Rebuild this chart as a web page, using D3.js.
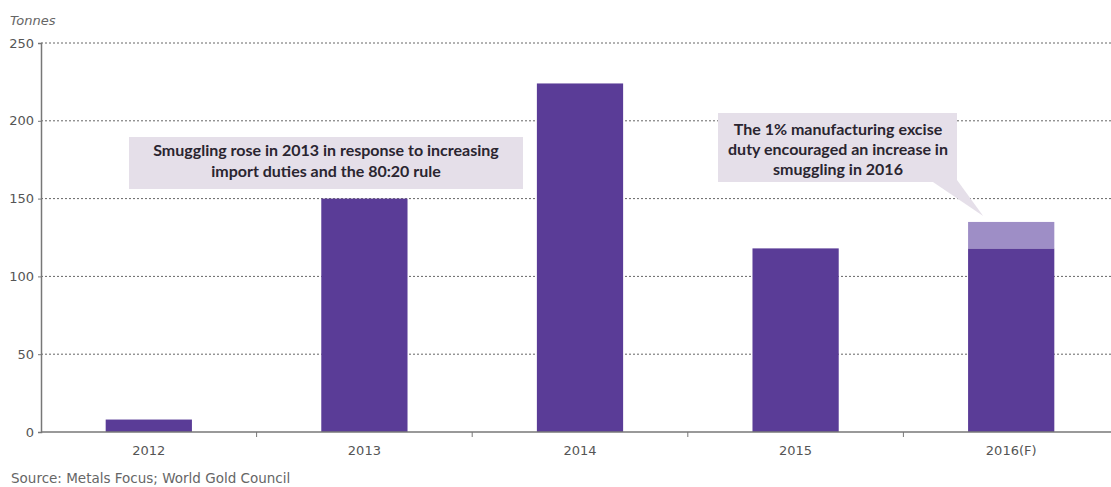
<!DOCTYPE html>
<html>
<head>
<meta charset="utf-8">
<script src="https://cdn.jsdelivr.net/npm/d3@7"></script>
<style>
  body { margin: 0; background: #fff; }
  svg { display: block; font-family: "DejaVu Sans", sans-serif; }
  .tick text { fill: #555; font-size: 13px; font-family: "DejaVu Sans", sans-serif; }
  .note { font-family: Lato, "Open Sans", sans-serif; font-weight: 700; font-size: 16px; fill: #2a2530; }
</style>
</head>
<body>
<svg width="1111" height="487"></svg>
<script>
const years = ["2012", "2013", "2014", "2015", "2016(F)"]
const smuggled = [8, 150, 224, 118, 118]
const extra2016 = [0, 0, 0, 0, 17]
const yTicks = [0, 50, 100, 150, 200, 250]
const notes = [
  ["Smuggling rose in 2013 in response to increasing", "import duties and the 80:20 rule"],
  ["The 1% manufacturing excise", "duty encouraged an increase in", "smuggling in 2016"]
]

const margin = {top: 43, right: 0, bottom: 55, left: 41}
const svg = d3.select("svg")
const width = 1111, height = 487

const x = d3.scaleBand().domain(years).range([margin.left, margin.left + 5 * 215.6]).padding(0)
const y = d3.scaleLinear().domain([0, 250]).range([height - margin.bottom, margin.top])
const barW = x.bandwidth() * 0.4

// gridlines
svg.append("g")
  .selectAll("line")
  .data(yTicks.filter(d => d > 0))
  .join("line")
    .attr("x1", margin.left).attr("x2", width)
    .attr("y1", d => y(d)).attr("y2", d => y(d))
    .attr("stroke", "#666").attr("stroke-width", 1).attr("stroke-dasharray", "2,2")

// annotation boxes (behind bars)
const n1 = svg.append("g")
n1.append("rect").attr("x", 129).attr("y", 137).attr("width", 394).attr("height", 52).attr("fill", "#e5dfe9")
n1.selectAll("text").data(notes[0]).join("text").attr("class", "note")
  .attr("x", 326).attr("y", (d, i) => 156 + i * 21).attr("text-anchor", "middle").text(d => d)

const n2 = svg.append("g")
n2.append("path")
  .attr("d", `M930,180 L957,180 L${x("2016(F)") + x.bandwidth() / 2 - 28},${y(smuggled[4] + extra2016[4]) - 6} Z`)
  .attr("fill", "#e5dfe9")
n2.append("rect").attr("x", 718).attr("y", 113).attr("width", 239).attr("height", 69).attr("fill", "#e5dfe9")
n2.selectAll("text").data(notes[1]).join("text").attr("class", "note")
  .attr("x", 838).attr("y", (d, i) => 135 + i * 20).attr("text-anchor", "middle").text(d => d)

// bars
svg.append("g")
  .selectAll("rect")
  .data(years)
  .join("rect")
    .attr("x", (d) => x(d) + (x.bandwidth() - barW) / 2)
    .attr("y", (d, i) => y(smuggled[i]))
    .attr("width", barW)
    .attr("height", (d, i) => y(0) - y(smuggled[i]))
    .attr("fill", "#5a3c97")

svg.append("g")
  .selectAll("rect")
  .data(years.filter((d, i) => extra2016[i] > 0))
  .join("rect")
    .attr("x", d => x(d) + (x.bandwidth() - barW) / 2)
    .attr("y", d => y(smuggled[years.indexOf(d)] + extra2016[years.indexOf(d)]))
    .attr("width", barW)
    .attr("height", d => y(0) - y(extra2016[years.indexOf(d)]))
    .attr("fill", "#9e8ec6")

// y axis
const yAxis = svg.append("g")
  .attr("transform", `translate(${margin.left},0)`)
  .call(d3.axisLeft(y).tickValues(yTicks).tickSize(3).tickPadding(4))
yAxis.select(".domain").attr("stroke", "#777").attr("stroke-width", 1.5)
yAxis.selectAll(".tick line").attr("stroke", "#777")

// x axis
const xAxis = svg.append("g")
  .attr("transform", `translate(0,${y(0)})`)
  .call(d3.axisBottom(x).tickSize(0).tickPadding(14))
xAxis.select(".domain").remove()
xAxis.append("line").attr("x1", margin.left).attr("x2", width).attr("stroke", "#777").attr("stroke-width", 1.5)
xAxis.selectAll(".between")
  .data(years.slice(1))
  .join("line")
    .attr("x1", d => x(d)).attr("x2", d => x(d))
    .attr("y1", 0).attr("y2", 5)
    .attr("stroke", "#777")

svg.append("text").attr("x", 10).attr("y", 25).attr("font-size", 13).attr("font-style", "italic").attr("fill", "#666").text("Tonnes")
svg.append("text").attr("x", 11).attr("y", 483).attr("font-size", 13.5).attr("fill", "#666").text("Source: Metals Focus; World Gold Council")
</script>
</body>
</html>
